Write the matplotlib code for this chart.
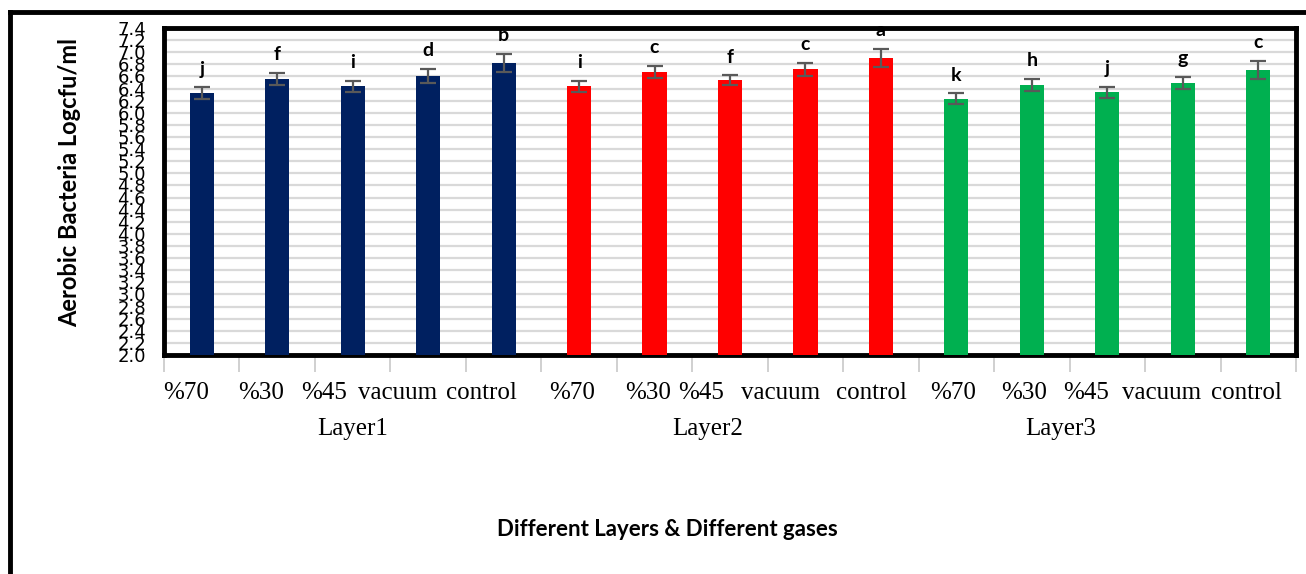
import matplotlib
matplotlib.use("Agg")
import matplotlib.pyplot as plt
import numpy as np
from matplotlib.lines import Line2D

groups = ["Layer1", "Layer2", "Layer3"]
gases = ["%70", "%30", "%45", "vacuum", "control"]
values = {
    "Layer1": [6.32, 6.56, 6.44, 6.61, 6.82],
    "Layer2": [6.44, 6.67, 6.54, 6.72, 6.90],
    "Layer3": [6.23, 6.46, 6.34, 6.49, 6.71],
}
errors = {
    "Layer1": [0.10, 0.10, 0.09, 0.11, 0.15],
    "Layer2": [0.09, 0.10, 0.08, 0.11, 0.15],
    "Layer3": [0.09, 0.10, 0.09, 0.10, 0.15],
}
letters = {
    "Layer1": ["j", "f", "i", "d", "b"],
    "Layer2": ["i", "c", "f", "c", "a"],
    "Layer3": ["k", "h", "j", "g", "c"],
}
colors = {"Layer1": "#002060", "Layer2": "#FF0000", "Layer3": "#00B050"}
yticks = [round(2.0 + 0.2 * i, 1) for i in range(28)]

W, H = 1306, 574
fig = plt.figure(figsize=(W / 100, H / 100), dpi=100)
ax = fig.add_axes([164 / W, 1 - 355 / H, (1296 - 164) / W, (355 - 28) / H])

bold_font = ["Lato", "DejaVu Sans"]
serif_font = ["Liberation Serif", "DejaVu Serif"]

idx = 0
for g in groups:
    n = len(values[g])
    x = np.arange(idx, idx + n)
    ax.bar(x, [v - 2.0 for v in values[g]], bottom=2.0, width=0.32,
           color=colors[g], zorder=3)
    ax.errorbar(x, values[g], yerr=errors[g], fmt="none", ecolor="#595959",
                elinewidth=1.6, capsize=6, capthick=1.6, zorder=4)
    for xi, v, e, lt in zip(x, values[g], errors[g], letters[g]):
        ax.annotate(lt, (xi, v + e), xytext=(0, 7), textcoords="offset points",
                    ha="center", va="bottom", fontsize=14, fontweight="bold",
                    family=bold_font, zorder=5, annotation_clip=False)
    idx += n

ncat = idx
ax.set_xlim(-0.5, ncat - 0.5)
ax.set_ylim(2.0, 7.4)
ax.set_yticks(yticks)
ax.set_yticklabels([f"{t:.1f}" for t in yticks], fontsize=13, family="DejaVu Sans")
ax.tick_params(axis="y", length=0, pad=13)
ax.yaxis.grid(True, color="#d9d9d9", linewidth=1.6, zorder=0)
ax.set_axisbelow(True)

# category boundary ticks
ax.set_xticks(np.arange(-0.5, ncat, 1.0))
ax.set_xticklabels([])
ax.tick_params(axis="x", length=12, width=1.2, color="#c8c8c8", direction="out")

for sp in ax.spines.values():
    sp.set_linewidth(3.5)
    sp.set_color("black")

# category labels (horizontal nudges to follow the reference placement)
xt = ax.get_xaxis_transform()
shift = [-0.21, -0.21, -0.38, -0.40, -0.30,
         -0.09, -0.09, -0.38, -0.33, -0.13,
         -0.05, -0.11, -0.28, -0.28, -0.16]
k = 0
for gi, g in enumerate(groups):
    for j, gas in enumerate(gases):
        ax.text(k + shift[k], -0.115, gas, transform=xt, ha="center", va="center",
                fontsize=18, family=serif_font)
        k += 1
gshift = [0.0, -0.3, -0.62]
for gi, g in enumerate(groups):
    ax.text(gi * 5 + 2 + gshift[gi], -0.225, g, transform=xt, ha="center",
            va="center", fontsize=18, family=serif_font)

fig.text(70 / W, 1 - 182 / H, "Aerobic Bacteria Logcfu/ml", rotation=90,
         ha="center", va="center", fontsize=17, fontweight="bold", family=bold_font)
fig.text(667 / W, 1 - 530 / H, "Different Layers & Different gases",
         ha="center", va="center", fontsize=16, fontweight="bold", family=bold_font)

# outer frame lines
fig.add_artist(Line2D([10 / W, 1.0], [1 - 12 / H, 1 - 12 / H], color="black",
                      linewidth=3.5, transform=fig.transFigure))
fig.add_artist(Line2D([10 / W, 10 / W], [0.0, 1 - 12 / H], color="black",
                      linewidth=3.5, transform=fig.transFigure))

fig.savefig("out.png", dpi=100)
